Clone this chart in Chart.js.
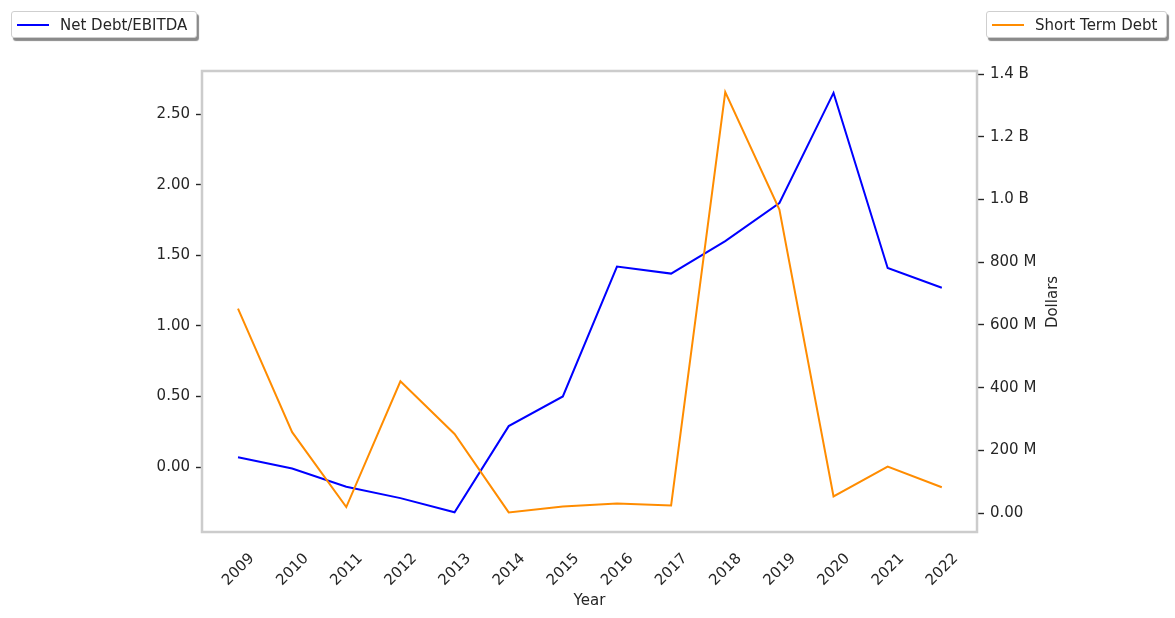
<!DOCTYPE html>
<html><head><meta charset="utf-8">
<script src="https://cdn.jsdelivr.net/npm/chart.js@4"></script>
<style>
html,body{margin:0;padding:0;background:#fff;}
#wrap{position:relative;width:1175px;height:618px;overflow:hidden;}
#c{position:absolute;left:0;top:0;}
.leg{position:absolute;top:11px;height:27px;background:#fff;border:1px solid #cfcfcf;border-radius:3px;box-shadow:2px 3px 1px #8a8a8a;font:15px "DejaVu Sans",sans-serif;color:#262626;display:flex;align-items:center;box-sizing:border-box;white-space:nowrap;}
.leg .l{display:inline-block;width:32px;height:0;border-top:2px solid;margin:0 11px 0 5px;}
</style></head>
<body>
<div id="wrap">
<canvas id="c" width="1175" height="618"></canvas>
<div class="leg" style="left:11px;width:186px;"><span class="l" style="border-color:#0000ff"></span>Net Debt/EBITDA</div>
<div class="leg" style="left:986px;width:181px;"><span class="l" style="border-color:#ff8c00"></span>Short Term Debt</div>
</div>
<script>
const years = [2009,2010,2011,2012,2013,2014,2015,2016,2017,2018,2019,2020,2021,2022];
const netDebtEbitda = [0.07,-0.01,-0.14,-0.22,-0.32,0.29,0.50,1.42,1.37,1.60,1.87,2.65,1.41,1.27];
const shortTermDebt = [652e6,258e6,19e6,420e6,252e6,2e6,21e6,30e6,24e6,1343e6,968e6,53e6,148e6,82e6];
const leftTicks = [0,0.5,1.0,1.5,2.0,2.5];
const rightTicks = [0,200e6,400e6,600e6,800e6,1000e6,1200e6,1400e6];

const FONT = {family:'"DejaVu Sans", sans-serif', size:15};
const TXT = '#262626';

function fmtDollars(v){
  if (v === 0) return '0.00';
  if (Math.abs(v) >= 1e9) return (v/1e9).toFixed(1) + ' B';
  return Math.round(v/1e6) + ' M';
}

const framePlugin = {
  id:'frame',
  afterDraw(chart){
    const {ctx, chartArea:a} = chart;
    ctx.save();
    ctx.strokeStyle = '#cccccc';
    ctx.lineWidth = 2.5;
    ctx.strokeRect(a.left, a.top, a.right-a.left, a.bottom-a.top);
    ctx.fillStyle = TXT;
    ctx.font = '15px "DejaVu Sans", sans-serif';
    ctx.translate(1053, 302);
    ctx.rotate(-Math.PI/2);
    ctx.textAlign = 'center';
    ctx.textBaseline = 'middle';
    ctx.fillText('Dollars', 0, 0);
    ctx.restore();
  }
};

new Chart(document.getElementById('c'), {
  type:'line',
  data:{
    datasets:[
      {label:'Net Debt/EBITDA', data: years.map((y,i)=>({x:y,y:netDebtEbitda[i]})), borderColor:'#0000ff', borderWidth:2, pointRadius:0, yAxisID:'y', order:2, tension:0},
      {label:'Short Term Debt', data: years.map((y,i)=>({x:y,y:shortTermDebt[i]})), borderColor:'#ff8c00', borderWidth:2, pointRadius:0, yAxisID:'y2', order:1, tension:0}
    ]
  },
  options:{
    responsive:false, animation:false,
    layout:{padding:{top:71,left:0,right:0,bottom:0}},
    plugins:{legend:{display:false}, tooltip:{enabled:false}},
    scales:{
      x:{
        type:'linear', position:'bottom',
        min:2008.335, max:2022.65,
        afterBuildTicks(s){ s.ticks = years.map(v=>({value:v})); },
        afterFit(s){ s.height = 86; },
        grid:{display:false},
        border:{display:false},
        ticks:{font:FONT, color:TXT, minRotation:45, maxRotation:45, autoSkip:false, labelOffset:14, padding:10,
               callback:(v)=>String(v)},
        title:{display:true, text:'Year', font:FONT, color:TXT, padding:{top:0,bottom:8}}
      },
      y:{
        type:'linear', position:'left',
        min:-0.46, max:2.805,
        afterBuildTicks(s){ s.ticks = leftTicks.map(v=>({value:v})); },
        afterFit(s){ s.width = 202; },
        grid:{display:true, drawOnChartArea:false, drawTicks:true, tickLength:6, tickColor:TXT, tickWidth:1.4},
        border:{display:false},
        ticks:{font:FONT, color:TXT, padding:6, callback:(v)=>v.toFixed(2)}
      },
      y2:{
        type:'linear', position:'right',
        min:-60.6e6, max:1410e6,
        afterBuildTicks(s){ s.ticks = rightTicks.map(v=>({value:v})); },
        afterFit(s){ s.width = 198; },
        grid:{display:true, drawOnChartArea:false, drawTicks:true, tickLength:7, tickColor:TXT, tickWidth:1.4},
        border:{display:false},
        ticks:{font:FONT, color:TXT, padding:6, callback:(v)=>fmtDollars(v)}
      }
    }
  },
  plugins:[framePlugin]
});
</script>
</body></html>
